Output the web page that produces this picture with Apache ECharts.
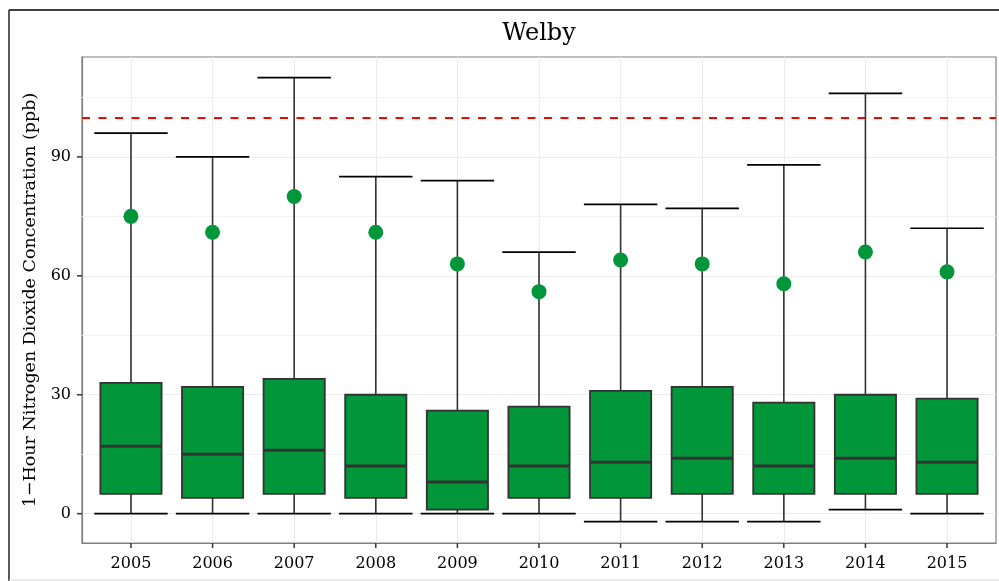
<!DOCTYPE html>
<html>
<head>
<meta charset="utf-8">
<script src="https://cdn.jsdelivr.net/npm/echarts@6/dist/echarts.min.js"></script>
<style>
  html, body { margin: 0; padding: 0; background: #fff; }
  #chart { width: 999px; height: 581px; }
</style>
</head>
<body>
<div id="chart"></div>
<script>
// box data
var years = ['2005', '2006', '2007', '2008', '2009', '2010', '2011', '2012', '2013', '2014', '2015'];
var lowCap = [0, 0, 0, 0, 0, 0, -2, -2, -2, 1, 0];
var q1 = [5, 4, 5, 4, 1, 4, 4, 5, 5, 5, 5];
var median = [17, 15, 16, 12, 8, 12, 13, 14, 12, 14, 13];
var q3 = [33, 32, 34, 30, 26, 27, 31, 32, 28, 30, 29];
var highCap = [96, 90, 110, 85, 84, 66, 78, 77, 88, 106, 72];
var dots = [75, 71, 80, 71, 63, 56, 64, 63, 58, 66, 61];
var yTicks = [0, 30, 60, 90];
var minorY = [15, 45, 75, 105];
var standard = 100;

var xMin = -0.6, xMax = 10.6;
var yMin = -7.4, yMax = 115.2;

var fontFam = 'DejaVu Serif';
var green = '#009639';

var boxData = [];
var dotData = [];
var xIdx = [];
for (var i = 0; i < years.length; i++) {
    boxData.push([i, lowCap[i], q1[i], median[i], q3[i], highCap[i]]);
    dotData.push([i, dots[i]]);
    xIdx.push(i);
}

function renderBox(params, api) {
    var x = api.value(0);
    var band = api.size([1, 0])[0];
    var boxW = band * 0.75;
    var capW = band * 0.9;
    var pLow = api.coord([x, api.value(1)]);
    var pQ1 = api.coord([x, api.value(2)]);
    var pMed = api.coord([x, api.value(3)]);
    var pQ3 = api.coord([x, api.value(4)]);
    var pHigh = api.coord([x, api.value(5)]);
    var cx = pLow[0];
    return {
        type: 'group',
        children: [
            { type: 'line', shape: { x1: cx, y1: pLow[1], x2: cx, y2: pHigh[1] },
              style: { stroke: '#333333', lineWidth: 1.6 } },
            { type: 'line', shape: { x1: cx - capW / 2, y1: pLow[1], x2: cx + capW / 2, y2: pLow[1] },
              style: { stroke: '#000000', lineWidth: 1.7 } },
            { type: 'line', shape: { x1: cx - capW / 2, y1: pHigh[1], x2: cx + capW / 2, y2: pHigh[1] },
              style: { stroke: '#000000', lineWidth: 1.7 } },
            { type: 'rect', shape: { x: cx - boxW / 2, y: pQ3[1], width: boxW, height: pQ1[1] - pQ3[1] },
              style: { fill: green, stroke: '#333333', lineWidth: 1.8 } },
            { type: 'line', shape: { x1: cx - boxW / 2, y1: pMed[1], x2: cx + boxW / 2, y2: pMed[1] },
              style: { stroke: '#333333', lineWidth: 3 } }
        ]
    };
}

// short outward tick marks on the bottom and left edges of the panel
function renderXTick(params, api) {
    var p = api.coord([api.value(0), yMin]);
    return { type: 'line', shape: { x1: p[0], y1: p[1], x2: p[0], y2: p[1] + 5 },
             style: { stroke: '#333333', lineWidth: 1.5 } };
}
function renderYTick(params, api) {
    var p = api.coord([xMin, api.value(1)]);
    return { type: 'line', shape: { x1: p[0] - 5, y1: p[1], x2: p[0], y2: p[1] },
             style: { stroke: '#333333', lineWidth: 1.5 } };
}

var myChart = echarts.init(document.getElementById('chart'));

var option = {
    animation: false,
    backgroundColor: '#ffffff',
    title: {
        text: 'Welby',
        left: 534,
        top: 17,
        textAlign: 'center',
        textStyle: { fontFamily: fontFam, fontSize: 24, fontWeight: 'normal', color: '#000' }
    },
    graphic: [
        { type: 'line', shape: { x1: 9, y1: 10, x2: 999, y2: 10 }, style: { stroke: '#000', lineWidth: 1.5 } },
        { type: 'line', shape: { x1: 9, y1: 10, x2: 9, y2: 581 }, style: { stroke: '#222', lineWidth: 1.5 } },
        { type: 'line', shape: { x1: 9, y1: 580, x2: 999, y2: 580 }, style: { stroke: '#d8d8d8', lineWidth: 1 } }
    ],
    grid: {
        left: 82, top: 57, width: 914, height: 486,
        show: true, borderColor: '#7f7f7f', borderWidth: 1.2, backgroundColor: '#fff'
    },
    xAxis: {
        type: 'value',
        min: xMin,
        max: xMax,
        axisLine: { show: true, onZero: false, lineStyle: { color: '#7f7f7f', width: 1.2 } },
        axisTick: { show: false, customValues: xIdx },
        axisLabel: {
            customValues: xIdx,
            formatter: function (v) { return years[Math.round(v)]; },
            fontFamily: fontFam, fontSize: 16, color: '#000', margin: 13
        },
        splitLine: { show: true, lineStyle: { color: '#ebebeb', width: 1 } }
    },
    yAxis: {
        type: 'value',
        min: yMin,
        max: yMax,
        name: '1\u2212Hour Nitrogen Dioxide Concentration (ppb)',
        nameLocation: 'middle',
        nameGap: 38,
        nameTextStyle: { fontFamily: fontFam, fontSize: 17.5, color: '#000' },
        axisLine: { show: true, onZero: false, lineStyle: { color: '#7f7f7f', width: 1.2 } },
        axisTick: { show: false, customValues: yTicks },
        axisLabel: {
            customValues: yTicks,
            fontFamily: fontFam, fontSize: 16, color: '#000', margin: 11
        },
        splitLine: { show: true, lineStyle: { color: '#ebebeb', width: 1 } }
    },
    series: [
        {
            // minor grid lines, kept behind the boxes
            type: 'scatter',
            data: [],
            z: 0,
            silent: true,
            markLine: {
                silent: true,
                z: 1,
                symbol: 'none',
                label: { show: false },
                lineStyle: { color: '#f3f3f3', width: 1, type: 'solid' },
                data: minorY.map(function (v) { return { yAxis: v }; })
            }
        },
        {
            type: 'custom',
            renderItem: renderXTick,
            data: xIdx.map(function (v) { return [v, 0]; }),
            clip: false,
            silent: true,
            z: 6
        },
        {
            type: 'custom',
            renderItem: renderYTick,
            data: yTicks.map(function (v) { return [0, v]; }),
            clip: false,
            silent: true,
            z: 6
        },
        {
            type: 'custom',
            renderItem: renderBox,
            data: boxData,
            z: 3
        },
        {
            type: 'scatter',
            data: dotData,
            symbol: 'circle',
            symbolSize: 15,
            itemStyle: { color: green, opacity: 1 },
            z: 4,
            markLine: {
                silent: true,
                z: 2,
                symbol: 'none',
                label: { show: false },
                lineStyle: { color: '#ff0000', width: 2, type: [8, 8.5] },
                data: [{ yAxis: standard }]
            }
        }
    ]
};

myChart.setOption(option);
</script>
</body>
</html>
